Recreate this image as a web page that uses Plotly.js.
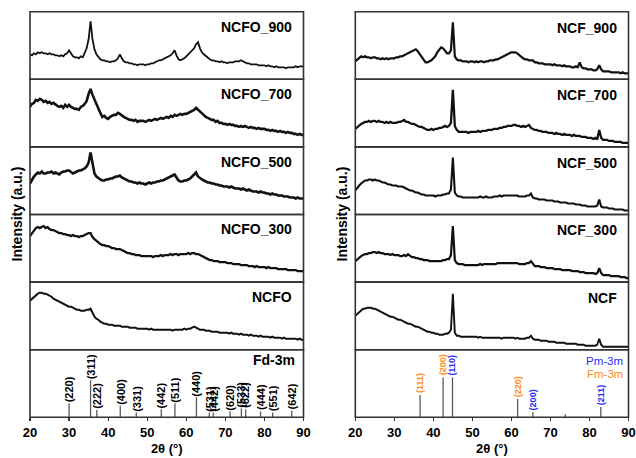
<!DOCTYPE html>
<html><head><meta charset="utf-8">
<script src="https://cdn.plot.ly/plotly-3.0.1.min.js"></script>
<style>html,body{margin:0;padding:0;background:#fff;} #chart{width:636px;height:458px;}</style>
</head><body><div id="chart"></div>
<script>
// 2-theta sampling grid (degrees)
const twoTheta = [
20,20.5,21,21.5,22,22.5,23,23.5,24,24.5,
25,25.5,26,26.5,27,27.5,28,28.5,29,29.5,
30,30.5,31,31.5,32,32.5,33,33.5,34,34.5,
35,35.5,36,36.5,37,37.5,38,38.5,39,39.5,
40,40.5,41,41.5,42,42.5,43,43.5,44,44.5,
45,45.5,46,46.5,47,47.5,48,48.5,49,49.5,
50,50.5,51,51.5,52,52.5,53,53.5,54,54.5,
55,55.5,56,56.5,57,57.5,58,58.5,59,59.5,
60,60.5,61,61.5,62,62.5,63,63.5,64,64.5,
65,65.5,66,66.5,67,67.5,68,68.5,69,69.5,
70,70.5,71,71.5,72,72.5,73,73.5,74,74.5,
75,75.5,76,76.5,77,77.5,78,78.5,79,79.5,
80,80.5,81,81.5,82,82.5,83,83.5,84,84.5,
85,85.5,86,86.5,87,87.5,88,88.5,89,89.5,
90];

// Left column: NCFO samples (intensity, arbitrary units)
const ncfo900 = [
25,24,26,25,27,26,27,26,26,25, 26,25,25,24,24,23,24,23,25,26,
29,26,23,22,22,21,23,22,26,31, 40,58,40,30,25,22,20,19,19,18,
18,17,18,18,19,21,25,21,18,17, 17,16,16,15,15,14,15,15,15,14,
15,15,16,16,17,18,19,19,20,21, 22,23,24,26,29,24,20,19,20,21,
23,25,27,29,31,35,37,31,27,25, 23,21,20,19,19,18,18,17,18,17,
17,16,17,17,17,18,18,18,19,18, 17,16,16,15,15,15,15,14,14,14,
14,13,14,13,13,12,13,12,12,12, 12,11,12,12,12,12,13,12,13,13, 13];
const ncfo700 = [
40,43,44,47,46,48,47,45,46,44, 45,43,44,42,41,40,41,39,42,40,
42,40,39,38,38,37,40,41,43,46, 53,58,52,47,42,37,34,30,31,29,
28,30,31,32,32,34,33,31,30,29, 28,27,27,26,27,25,26,26,26,25,
26,27,26,27,28,27,28,29,28,29, 30,29,31,30,32,31,32,33,32,33,
33,34,35,36,37,39,37,35,33,32, 30,29,28,27,27,25,26,24,24,23,
23,22,23,22,22,21,21,20,21,20, 21,20,19,20,19,19,18,19,18,18,
18,17,17,16,17,16,16,15,16,15, 15,14,15,14,14,13,13,12,13,12, 12];
const ncfo500 = [
31,35,38,40,42,41,43,41,41,42, 42,43,41,42,41,40,42,43,43,44,
44,42,41,42,43,44,44,45,46,48, 52,62,50,41,38,36,35,34,34,35,
35,36,36,37,38,38,39,37,36,35, 34,33,33,32,32,31,32,31,31,30,
31,32,31,32,32,33,33,34,34,35, 36,37,38,39,40,37,34,33,33,34,
34,35,36,38,40,42,38,36,35,34, 33,32,32,31,31,30,30,29,29,28,
28,28,27,28,27,26,26,26,25,26, 25,24,25,24,23,23,23,22,23,22,
22,21,21,20,21,20,20,19,19,19, 18,18,18,17,17,17,16,17,16,16, 16];
const ncfo300 = [
46,49,52,54,55,54,55,56,54,55, 53,52,52,51,50,49,49,48,48,47,
47,46,47,46,46,45,46,46,47,48, 49,49,45,43,41,39,38,37,37,36,
36,35,34,34,33,33,33,32,31,30, 29,29,28,28,27,27,27,26,26,26,
26,26,26,25,26,26,26,27,26,27, 27,27,28,27,28,28,27,28,28,28,
28,29,28,29,29,28,28,27,26,25, 24,23,22,22,21,21,21,20,20,20,
20,19,19,19,18,18,18,18,17,17, 17,17,16,16,16,15,16,15,15,15,
15,14,15,14,14,14,14,13,13,13, 13,13,12,12,12,12,12,11,11,11, 11];
const ncfo = [
49,51,53,55,56,57,57,56,56,55, 54,53,51,50,49,48,47,46,45,44,
43,43,42,41,40,40,39,39,39,40, 40,41,37,33,31,30,28,27,26,26,
25,25,25,24,24,24,24,23,23,23, 23,22,22,22,22,21,21,21,21,21,
21,20,21,20,20,20,20,20,20,20, 20,20,20,19,20,20,20,20,20,21,
20,21,21,22,23,22,21,20,20,20, 19,19,19,18,18,18,18,17,17,17,
17,17,16,17,16,16,16,15,16,15, 15,15,14,15,14,14,14,13,14,13,
13,13,13,12,13,12,12,12,12,11, 12,11,11,11,11,11,11,10,11,10, 10];

// Right column: NCF samples
const ncf900 = [
18,20,22,23,22,23,22,22,21,22, 22,21,21,20,21,20,21,20,21,21,
21,22,22,23,23,24,25,26,27,28, 29,30,28,25,22,19,17,17,18,19,
21,23,27,30,32,31,28,26,26,29, 57,23,20,19,19,18,18,18,17,18,
18,17,18,17,18,18,17,18,18,19, 19,19,20,20,21,22,23,24,25,26,
27,27,27,26,24,22,21,20,20,19, 19,19,17,17,16,16,16,15,15,15,
15,14,15,14,14,14,13,14,13,13, 13,12,12,13,12,17,12,11,11,10,
10,10,9,9,10,14,10,8,8,8, 8,7,7,7,7,7,6,7,6,6, 6];
const ncf700 = [
18,20,21,23,24,25,25,26,25,26, 26,25,26,25,25,24,25,24,25,24,
24,24,25,25,26,27,25,25,24,23, 23,22,21,20,20,19,18,17,17,18,
17,18,18,19,19,20,21,20,21,24, 57,21,17,15,15,15,15,15,14,15,
15,15,15,16,15,16,16,16,17,17, 17,18,18,18,19,19,20,20,21,21,
21,22,22,21,21,20,21,20,21,22, 19,18,17,17,16,16,15,15,15,14,
14,14,13,14,13,13,12,13,12,12, 12,11,12,11,11,11,10,10,10,9,
9,9,8,9,8,17,9,7,7,7, 6,6,6,5,5,5,5,4,4,4, 4];
const ncf500 = [
24,27,29,31,33,34,34,35,35,34, 35,34,34,33,32,32,31,30,30,29,
29,29,28,28,28,27,26,25,24,24, 23,22,22,21,20,20,19,19,19,19,
19,18,19,19,19,20,20,21,21,25, 57,22,19,18,18,17,17,17,17,17,
17,17,17,17,18,17,17,18,17,17, 17,18,18,18,19,18,19,19,19,19,
19,19,19,19,18,18,18,18,19,19, 21,17,16,16,15,15,15,15,14,14,
14,14,13,13,13,12,12,12,12,11, 11,11,11,10,10,10,9,9,9,8,
8,8,8,8,9,15,8,7,7,7, 6,6,6,5,5,5,5,5,4,4, 4];
const ncf300 = [
21,23,25,26,27,28,28,29,29,30, 30,29,30,29,29,28,28,28,27,28,
27,27,27,26,26,27,26,28,26,25, 25,24,24,23,23,22,22,22,21,21,
21,21,21,21,21,22,22,23,23,27, 56,22,19,18,18,18,17,17,17,17,
17,17,17,17,18,17,18,18,18,18, 18,18,18,19,19,19,19,19,19,19,
19,19,19,19,18,18,18,18,19,19, 21,18,16,16,16,15,15,15,14,14,
14,14,13,13,13,13,12,12,12,12, 12,11,11,11,11,10,10,10,9,9,
9,9,9,8,9,14,9,7,7,7, 7,6,6,6,6,6,5,5,5,4, 4];
const ncf = [
34,36,38,40,41,41,42,42,42,41, 41,40,39,38,37,36,35,34,33,33,
32,31,30,30,29,28,27,26,26,25, 24,23,23,22,21,20,19,18,18,17,
17,16,16,15,15,15,16,16,17,20, 56,17,14,14,13,13,13,13,13,13,
13,13,13,12,13,12,12,12,12,12, 12,12,12,12,12,11,12,12,12,12,
12,12,11,12,11,11,11,11,12,12, 14,11,10,10,10,9,9,9,9,8,
8,8,8,7,7,7,7,7,6,6, 6,6,6,6,5,5,5,5,4,4,
4,4,4,4,5,11,5,3,3,3, 3,3,3,3,3,3,3,3,3,3, 3];

const ncfoNames = ['NCFO_900','NCFO_700','NCFO_500','NCFO_300','NCFO'];
const ncfNames = ['NCF_900','NCF_700','NCF_500','NCF_300','NCF'];

// Reference patterns
const fdPos = [30.0,35.5,37.1,43.1,47.2,53.6,57.1,62.6,65.9,66.9,71.2,74.1,75.2,79.0,82.1,87.0];
const fdInt = [14,37,7.3,11.7,4.7,8,14,20,4.7,4.7,5.7,9,8,5.7,4.7,6.7];
const fdLabels = ['(220)','(311)','(222)','(400)','(331)','(442)','(511)','(440)','(531)','(442)','(620)','(533)','(622)','(444)','(551)','(642)'];

const refPos = [36.6,42.5,44.9,61.6,65.5,73.8,82.9];
const refInt = [22.3,39.7,39.7,18.3,5.3,3,10.3];
const refLabels = ['(111)','(200)','(110)','(220)','(200)','','(211)'];
const refPhase = ['Fm-3m','Fm-3m','Pm-3m','Fm-3m','Pm-3m','','Pm-3m'];

const phaseColor = {'Fm-3m':'#ff8c1a','Pm-3m':'#2b2bff','':'#000'};

const W = 636, H = 458;
const panelTop = 11.7, panelH = 67.6;
function yDom(k){ return [1-(panelTop+(k+1)*panelH)/H, 1-(panelTop+k*panelH)/H]; }
const leftDom = [30/W, 303.5/W];
const rightDom = [355.3/W, 628.5/W];
const FONT = 'Arial, "Liberation Sans", sans-serif';

const ncfoSeries = [ncfo900, ncfo700, ncfo500, ncfo300, ncfo];
const ncfSeries = [ncf900, ncf700, ncf500, ncf300, ncf];
const ncfoWidth = [1.8, 2.6, 2.6, 2.3, 2.0];
const ncfWidth = [2.2, 2.3, 2.1, 2.2, 1.9];

const traces = [];
const layout = {
  width: W, height: H, autosize: false,
  margin: {l:0, r:0, t:0, b:0},
  paper_bgcolor: '#fff', plot_bgcolor: '#fff',
  showlegend: false,
  font: {family: FONT, color: '#000'},
  shapes: [], annotations: []
};

const xCommon = {
  range: [20, 90], tickvals: [20,30,40,50,60,70,80,90],
  ticks: 'outside', ticklen: 3, tickwidth: 1.2, tickcolor: '#333',
  ticklabeloverflow: 'allow',
  showgrid: false, zeroline: false, showline: false,
  tickfont: {size: 13, family: FONT, weight: 'bold', color: '#000'},
  title: {text: '2θ (°)', font: {size: 13, family: FONT, weight: 'bold', color: '#000'}, standoff: 4},
  automargin: false
};
layout.xaxis = Object.assign({}, xCommon, {domain: leftDom, anchor: 'y6'});
layout.xaxis2 = Object.assign({}, xCommon, {domain: rightDom, anchor: 'y12'});

for (let k = 0; k < 12; k++) {
  const name = 'yaxis' + (k === 0 ? '' : (k+1));
  layout[name] = {
    domain: yDom(k % 6), anchor: k < 6 ? 'x' : 'x2',
    range: [0, panelH], showticklabels: false, ticks: '',
    showgrid: false, zeroline: false, showline: false, fixedrange: true
  };
  const yref = 'y' + (k === 0 ? '' : (k+1));
  layout.shapes.push({type: 'rect', xref: (k < 6 ? 'x' : 'x2') + ' domain', yref: yref + ' domain',
    x0: 0, x1: 1, y0: 0, y1: 1, line: {color: '#333', width: 1.6}, layer: 'above'});
}

function panelLabel(text, xref, yref, yFrac, xRight){
  layout.annotations.push({text: text, xref: xref + ' domain', yref: yref + ' domain',
    x: xRight, y: yFrac, xanchor: 'right', yanchor: 'middle', showarrow: false,
    font: {size: 14, family: FONT, weight: 'bold', color: '#000'}});
}

ncfoSeries.forEach((s, k) => {
  const ya = k === 0 ? 'y' : 'y' + (k+1);
  traces.push({type: 'scatter', mode: 'lines', x: twoTheta, y: s, xaxis: 'x', yaxis: ya,
    line: {color: '#111', width: ncfoWidth[k]}, hoverinfo: 'skip'});
  panelLabel(ncfoNames[k], 'x', ya, 1 - 15/panelH, 0.967);
});
ncfSeries.forEach((s, k) => {
  const ya = 'y' + (k+7);
  traces.push({type: 'scatter', mode: 'lines', x: twoTheta, y: s, xaxis: 'x2', yaxis: ya,
    line: {color: '#111', width: ncfWidth[k]}, hoverinfo: 'skip'});
  panelLabel(ncfNames[k], 'x2', ya, 1 - 16/panelH, 0.964);
});

// Stick patterns
traces.push({type: 'bar', x: fdPos, y: fdInt, width: 0.32, xaxis: 'x', yaxis: 'y6',
  marker: {color: '#555', line: {width: 0}}, hoverinfo: 'skip'});
traces.push({type: 'bar', x: refPos, y: refInt, width: 0.32, xaxis: 'x2', yaxis: 'y12',
  marker: {color: '#555', line: {width: 0}}, hoverinfo: 'skip'});

fdLabels.forEach((t, i) => {
  layout.annotations.push({text: t, xref: 'x', yref: 'y6', x: fdPos[i], y: fdInt[i],
    textangle: -90, xanchor: 'center', yanchor: 'bottom', yshift: 0, showarrow: false,
    borderpad: 0, font: {size: 11, family: FONT, weight: 'bold', color: '#000'}});
});
refLabels.forEach((t, i) => {
  if (!t) return;
  layout.annotations.push({text: t, xref: 'x2', yref: 'y12', x: refPos[i], y: refInt[i],
    textangle: -90, xanchor: 'center', yanchor: 'bottom', yshift: 1, showarrow: false,
    borderpad: 0, font: {size: 9, family: FONT, weight: 'bold', color: phaseColor[refPhase[i]]}});
});

panelLabel('Fd-3m', 'x', 'y6', 1 - 10.6/panelH, 0.975);
layout.annotations.push({text: 'Pm-3m', xref: 'x2 domain', yref: 'y12 domain', x: 0.985, y: 1 - 11.3/panelH,
  xanchor: 'right', yanchor: 'middle', showarrow: false, borderpad: 0, font: {size: 11.5, family: FONT, color: '#2b2bff'}});
layout.annotations.push({text: 'Fm-3m', xref: 'x2 domain', yref: 'y12 domain', x: 0.985, y: 1 - 24.3/panelH,
  xanchor: 'right', yanchor: 'middle', showarrow: false, borderpad: 0, font: {size: 11.5, family: FONT, color: '#ff8c1a'}});

// Y axis titles
[16, 341].forEach(px => {
  layout.annotations.push({text: 'Intensity (a.u.)', xref: 'paper', yref: 'paper', x: px/W, y: 1 - 214.5/H,
    textangle: -90, xanchor: 'center', yanchor: 'middle', showarrow: false,
    font: {size: 14, family: FONT, weight: 'bold', color: '#000'}});
});

Plotly.newPlot('chart', traces, layout, {staticPlot: true, displayModeBar: false});
</script>
</body></html>
